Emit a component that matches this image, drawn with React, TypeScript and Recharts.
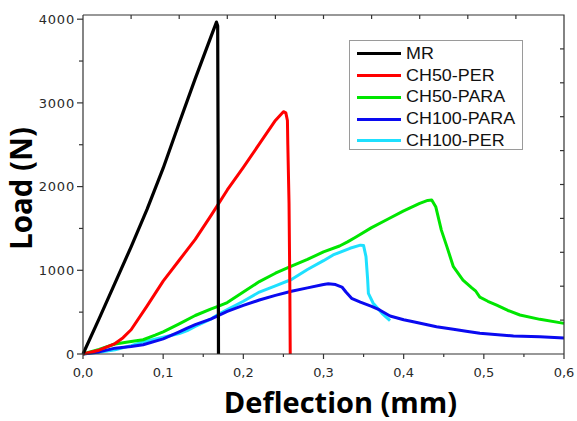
import React from 'react';
import { LineChart, Line, XAxis, YAxis, Legend } from 'recharts';

type P = [number, number];

// Deflection (mm), Load (N)
const mrData: P[] = [
  [0, 0], [0.02, 420], [0.04, 850], [0.06, 1280], [0.08, 1730], [0.1, 2220],
  [0.12, 2760], [0.14, 3290], [0.16, 3800], [0.1665, 3965], [0.168, 3920],
  [0.1685, 2500], [0.169, 0],
];
const ch50PerData: P[] = [
  [0, 0], [0.02, 45], [0.04, 125], [0.05, 195], [0.06, 290], [0.08, 575],
  [0.1, 870], [0.12, 1120], [0.14, 1370], [0.16, 1660], [0.18, 1960],
  [0.2, 2230], [0.22, 2510], [0.24, 2790], [0.25, 2895], [0.253, 2880],
  [0.255, 2790], [0.2555, 2500], [0.257, 1800], [0.258, 800], [0.2585, 0],
];
const ch50ParaData: P[] = [
  [0, 0], [0.02, 55], [0.04, 120], [0.06, 150], [0.075, 170], [0.09, 225],
  [0.1, 265], [0.12, 360], [0.14, 460], [0.16, 540], [0.17, 575], [0.18, 615],
  [0.2, 740], [0.22, 865], [0.24, 965], [0.26, 1050], [0.28, 1130],
  [0.3, 1220], [0.32, 1290], [0.33, 1340], [0.34, 1395], [0.36, 1510],
  [0.38, 1610], [0.4, 1710], [0.42, 1800], [0.43, 1835], [0.435, 1840],
  [0.44, 1760], [0.447, 1480], [0.454, 1280], [0.462, 1043], [0.474, 884],
  [0.485, 790], [0.49, 750], [0.495, 680], [0.505, 630], [0.516, 585],
  [0.53, 520], [0.545, 466], [0.57, 414], [0.6, 366],
];
const ch100ParaData: P[] = [
  [0, 0], [0.02, 25], [0.04, 70], [0.06, 90], [0.075, 110], [0.1, 180],
  [0.12, 265], [0.13, 310], [0.14, 350], [0.16, 420], [0.17, 465],
  [0.18, 510], [0.2, 580], [0.22, 645], [0.24, 700], [0.26, 750],
  [0.28, 790], [0.3, 830], [0.306, 838], [0.315, 830], [0.323, 800],
  [0.328, 740], [0.335, 665], [0.346, 620], [0.36, 570], [0.37, 526],
  [0.383, 454], [0.4, 410], [0.412, 386], [0.441, 326], [0.462, 295],
  [0.48, 270], [0.495, 247], [0.537, 215], [0.57, 205], [0.6, 192],
];
const ch100PerData: P[] = [
  [0, 0], [0.02, 20], [0.04, 50], [0.06, 100], [0.075, 145], [0.1, 200],
  [0.12, 245], [0.13, 280], [0.14, 330], [0.16, 420], [0.17, 480],
  [0.18, 530], [0.2, 630], [0.22, 740], [0.24, 815], [0.26, 890],
  [0.28, 1010], [0.3, 1115], [0.312, 1183], [0.333, 1263], [0.346, 1300],
  [0.35, 1295], [0.353, 1163], [0.355, 900], [0.356, 725], [0.362, 606],
  [0.373, 486], [0.383, 398],
];

const seriesNames = ['MR', 'CH50-PER', 'CH50-PARA', 'CH100-PARA', 'CH100-PER'];
const seriesColors = ['#000000', '#FF0000', '#00E600', '#0A0AF0', '#1EE0FF'];
const seriesData = [mrData, ch50PerData, ch50ParaData, ch100ParaData, ch100PerData];

const X_MAX = 0.6;
const Y_MAX = 4050;
const xTicks = [0, 0.05, 0.1, 0.15, 0.2, 0.25, 0.3, 0.35, 0.4, 0.45, 0.5, 0.55, 0.6];
const yTicks = [0, 500, 1000, 1500, 2000, 2500, 3000, 3500, 4000];
const topTicks = [0.06, 0.12, 0.18, 0.24, 0.3, 0.36, 0.42, 0.48, 0.54];
const rightTicks = [405, 810, 1215, 1620, 2025, 2430, 2835, 3240, 3645];

const X_LABEL = 'Deflection (mm)';
const Y_LABEL = 'Load (N)';

const toPts = (a: P[]) => a.map(([x, y]) => ({ x, y }));

const MARGIN = { top: 15, right: 13, bottom: 0, left: 0 };
const AX = '#333333';
const TICK_FONT = '"DejaVu Sans", Verdana, sans-serif';
const TITLE_FONT = '"Open Sans", "DejaVu Sans", sans-serif';

const isMajor = (v: number, step: number) =>
  Math.abs(v / step - Math.round(v / step)) < 1e-6;

const BottomTick = (props: any) => {
  const { x, y, payload } = props;
  const v = payload.value as number;
  const major = isMajor(v, 0.1);
  return (
    <g>
      <line x1={x} y1={y} x2={x} y2={y + (major ? 5 : 3)} stroke={AX} strokeWidth={1.2} />
      {major && (
        <text x={x} y={y + 23} textAnchor="middle" fontFamily={TICK_FONT} fontSize={13} fill="#2a2a2a">
          {v.toFixed(1).replace('.', ',')}
        </text>
      )}
    </g>
  );
};

const LeftTick = (props: any) => {
  const { x, y, payload } = props;
  const v = payload.value as number;
  const major = isMajor(v, 1000);
  return (
    <g>
      <line x1={x - (major ? 6 : 4)} y1={y} x2={x} y2={y} stroke={AX} strokeWidth={1.2} />
      {major && (
        <text
          x={x - 8}
          y={y + 4.7}
          textAnchor="end"
          fontFamily={TICK_FONT}
          fontSize={13}
          letterSpacing={0.8}
          fill="#2a2a2a"
        >
          {String(v)}
        </text>
      )}
    </g>
  );
};

// X title plus the closed frame (top and right edges with inward ticks),
// placed from the x-axis box: left = vb.x, right = vb.x + vb.width, bottom = vb.y.
const XTitle = (props: any) => {
  const vb = props.viewBox || { x: 83, y: 354, width: 481, height: 67 };
  const left = vb.x;
  const right = vb.x + vb.width;
  const bottom = vb.y;
  const top = MARGIN.top;
  const sx = (v: number) => left + (v / X_MAX) * (right - left);
  const sy = (v: number) => bottom - (v / Y_MAX) * (bottom - top);
  return (
    <g>
      <polyline
        points={`${left},${top} ${right},${top} ${right},${bottom}`}
        fill="none"
        stroke={AX}
        strokeWidth={1.2}
      />
      {topTicks.map((t) => (
        <line key={`t${t}`} x1={sx(t)} y1={top} x2={sx(t)} y2={top + 4} stroke={AX} strokeWidth={1.2} />
      ))}
      {rightTicks.map((v) => (
        <line key={`r${v}`} x1={right - 4} y1={sy(v)} x2={right} y2={sy(v)} stroke={AX} strokeWidth={1.2} />
      ))}
      <text
        x={vb.x + vb.width / 2 + 17}
        y={vb.y + vb.height - 8}
        textAnchor="middle"
        fontFamily={TITLE_FONT}
        fontWeight={700}
        fontSize={29}
        fill="#000"
      >
        {X_LABEL}
      </text>
    </g>
  );
};

const YTitle = (props: any) => {
  const vb = props.viewBox || { x: 0, y: 15, width: 83, height: 339 };
  const cx = vb.x + 32;
  const cy = vb.y + vb.height / 2 + 4;
  return (
    <text
      transform={`translate(${cx},${cy}) rotate(-90)`}
      x={0}
      y={0}
      textAnchor="middle"
      fontFamily={TITLE_FONT}
      fontWeight={700}
      fontSize={29.5}
      fill="#000"
    >
      {Y_LABEL}
    </text>
  );
};

const LegendBox = () => (
  <div
    style={{
      boxSizing: 'border-box',
      width: 174,
      height: 110,
      border: '1px solid #9a9a9a',
      background: '#fff',
      paddingTop: 2.15,
    }}
  >
    {seriesNames.map((n, i) => (
      <div key={n} style={{ height: 21.7, display: 'flex', alignItems: 'center' }}>
        <div style={{ marginLeft: 7, width: 44, height: 3, background: seriesColors[i], flex: 'none' }} />
        <span
          style={{
            marginLeft: 5,
            fontFamily: '"Liberation Sans", Arial, sans-serif',
            fontSize: 16,
            lineHeight: '16px',
            color: '#111',
            display: 'inline-block',
            transform: 'scaleX(1.12)',
            transformOrigin: 'left center',
            whiteSpace: 'nowrap',
          }}
        >
          {n}
        </span>
      </div>
    ))}
  </div>
);

const drawOrder = [4, 3, 2, 1, 0];

export default function App() {
  return (
    <div style={{ position: 'absolute', left: 0, top: 0, width: 577, height: 421, background: '#fff' }}>
      <LineChart width={577} height={421} margin={MARGIN}>
        <XAxis
          xAxisId="b"
          type="number"
          dataKey="x"
          domain={[0, X_MAX]}
          ticks={xTicks}
          interval={0}
          height={67}
          tickSize={0}
          tickMargin={0}
          tickLine={false}
          tick={BottomTick}
          axisLine={{ stroke: AX, strokeWidth: 1.2 }}
          label={XTitle}
        />
        <YAxis
          yAxisId="l"
          type="number"
          dataKey="y"
          domain={[0, Y_MAX]}
          ticks={yTicks}
          interval={0}
          width={83}
          tickSize={0}
          tickMargin={0}
          tickLine={false}
          tick={LeftTick}
          axisLine={{ stroke: AX, strokeWidth: 1.2 }}
          label={YTitle}
        />
        {drawOrder.map((i) => (
          <Line
            key={seriesNames[i]}
            xAxisId="b"
            yAxisId="l"
            name={seriesNames[i]}
            data={toPts(seriesData[i])}
            dataKey="y"
            type="linear"
            stroke={seriesColors[i]}
            strokeWidth={i === 0 ? 3.2 : 3}
            strokeLinejoin="round"
            dot={false}
            activeDot={false}
            isAnimationActive={false}
          />
        ))}
        <Legend
          layout="vertical"
          align="center"
          verticalAlign="middle"
          content={LegendBox}
          wrapperStyle={{ left: 349, top: 40, width: 174, height: 110 }}
        />
      </LineChart>
    </div>
  );
}
